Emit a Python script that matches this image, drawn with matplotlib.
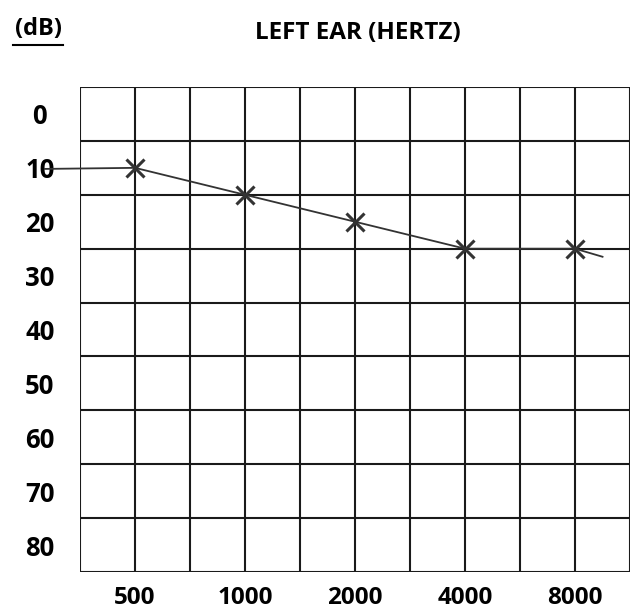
import matplotlib.pyplot as plt
from matplotlib.lines import Line2D

# audiogram, left ear
freq_labels = ['500', '1000', '2000', '4000', '8000']
freq_pos = [1, 3, 5, 7, 9]          # grid columns where the frequencies sit
db_levels = [0, 10, 20, 30, 40, 50, 60, 70, 80]
left_ear_db = [10, 15, 20, 25, 25]

plt.rcParams['font.family'] = ['Open Sans', 'DejaVu Sans']

fig = plt.figure(figsize=(6.36, 6.11), dpi=100)
ax = fig.add_axes([0.1258, 0.0638, 0.8648, 0.7938])

ax.set_xlim(0, 10)
ax.set_ylim(85, -5)

# grid of boxes
for x in range(11):
    ax.axvline(x, color='#1a1a1a', linewidth=1.5)
for y in range(-5, 90, 10):
    ax.axhline(y, color='#1a1a1a', linewidth=1.5)

# pen line, starts left of the chart and runs through the points
ax.plot([-0.64] + freq_pos + [9.5], [10.2] + left_ear_db + [26.5],
        color='#333333', linewidth=1.3, clip_on=False, zorder=3)
ax.plot(freq_pos, left_ear_db, linestyle='none', marker='x',
        markersize=13, markeredgewidth=2.2, color='#333333', zorder=4)

ax.set_xticks(freq_pos)
ax.set_xticklabels(freq_labels, fontsize=17.5, fontweight='bold')
ax.set_yticks(db_levels)
ax.set_yticklabels([str(v) for v in db_levels], fontsize=18.5,
                   fontweight='bold', ha='center')
ax.tick_params(axis='x', length=0, pad=10)
ax.tick_params(axis='y', length=0, pad=29)
for s in ax.spines.values():
    s.set_visible(False)

fig.text(358 / 636, 1 - 33 / 611, 'LEFT EAR (HERTZ)', fontsize=17.5,
         fontweight='bold', ha='center', va='center')
fig.text(38 / 636, 1 - 29 / 611, '(dB)', fontsize=17,
         fontweight='bold', ha='center', va='center')
fig.add_artist(Line2D([13 / 636, 63 / 636], [1 - 45 / 611, 1 - 45 / 611],
                      color='black', linewidth=1.5))

plt.savefig('out.png', dpi=100)
